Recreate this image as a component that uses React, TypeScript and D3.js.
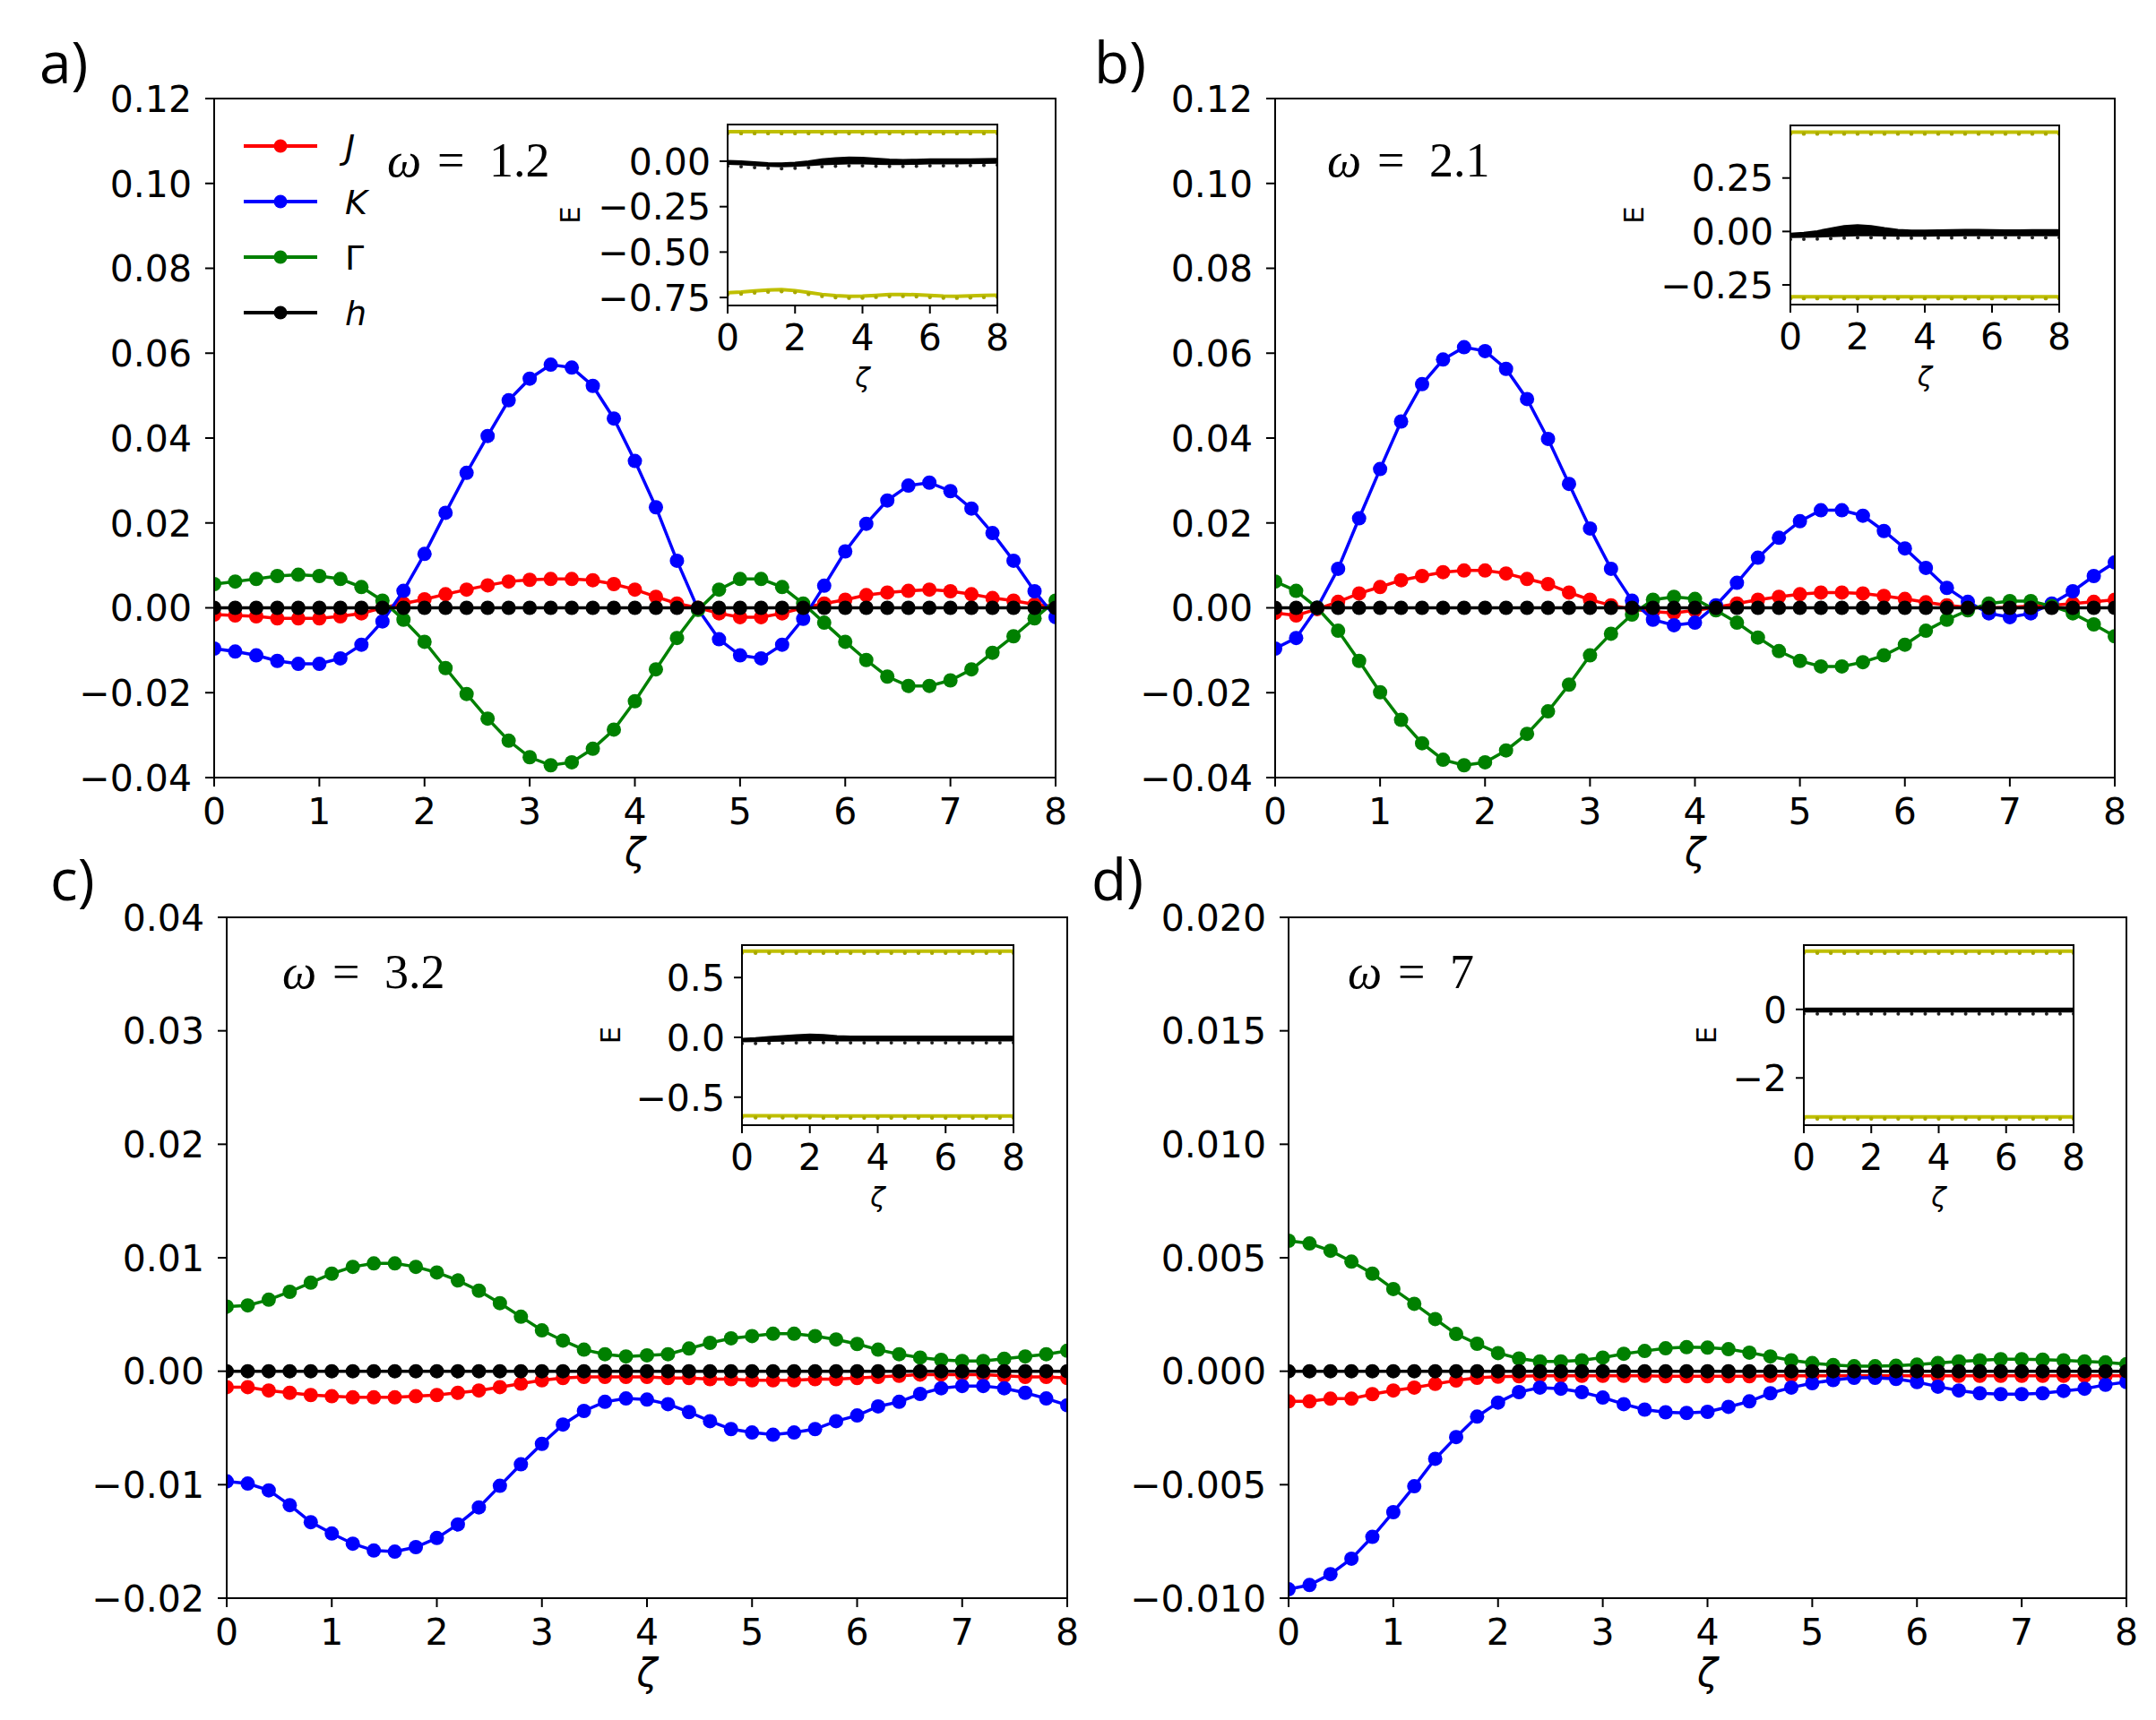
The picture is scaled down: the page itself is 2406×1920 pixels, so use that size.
import React from 'react'
import * as d3 from 'd3'

// sample positions (zeta)
const ZETA = [0, 0.2, 0.4, 0.6, 0.8, 1, 1.2, 1.4, 1.6, 1.8, 2, 2.2, 2.4, 2.6, 2.8, 3, 3.2, 3.4, 3.6, 3.8, 4, 4.2, 4.4, 4.6, 4.8, 5, 5.2, 5.4, 5.6, 5.8, 6, 6.2, 6.4, 6.6, 6.8, 7, 7.2, 7.4, 7.6, 7.8, 8]
const INSET_ZETA = [0, 0.4, 0.8, 1.2, 1.6, 2, 2.4, 2.8, 3.2, 3.6, 4, 4.4, 4.8, 5.2, 5.6, 6, 6.4, 6.8, 7.2, 7.6, 8]

const H_FIELD = [0, 0, 0, 0, 0, 0, 0, 0, 0, 0, 0, 0, 0, 0, 0, 0, 0, 0, 0, 0, 0, 0, 0, 0, 0, 0, 0, 0, 0, 0, 0, 0, 0, 0, 0, 0, 0, 0, 0, 0, 0]

// a) omega = 1.2
const A_J = [-0.0016, -0.0018, -0.002, -0.0025, -0.0025, -0.0025, -0.002, -0.0013, 0, 0.001, 0.002, 0.0032, 0.0043, 0.0053, 0.0062, 0.0066, 0.0068, 0.0068, 0.0065, 0.0056, 0.0043, 0.0026, 0.001, 0, -0.0013, -0.0022, -0.0022, -0.0013, 0, 0.001, 0.0019, 0.003, 0.0036, 0.004, 0.0043, 0.0039, 0.0032, 0.0023, 0.0017, 0.0008, 0.0003]
const A_K = [-0.0096, -0.0103, -0.0112, -0.0125, -0.0132, -0.0132, -0.0119, -0.0087, -0.0032, 0.004, 0.0127, 0.0224, 0.0318, 0.0405, 0.0489, 0.054, 0.0573, 0.0566, 0.0523, 0.0446, 0.0346, 0.0237, 0.0111, -0.0003, -0.0074, -0.0112, -0.0119, -0.0087, -0.0026, 0.0052, 0.0133, 0.0198, 0.0253, 0.0288, 0.0295, 0.0275, 0.0234, 0.0176, 0.0111, 0.0039, -0.0022]
const A_G = [0.0056, 0.0062, 0.0068, 0.0075, 0.0078, 0.0075, 0.0068, 0.0049, 0.0017, -0.0028, -0.008, -0.0142, -0.0203, -0.0261, -0.0313, -0.0352, -0.0371, -0.0364, -0.0332, -0.0287, -0.022, -0.0145, -0.0071, -0.0005, 0.0043, 0.0068, 0.0068, 0.0049, 0.001, -0.0035, -0.008, -0.0123, -0.0162, -0.0184, -0.0184, -0.0171, -0.0145, -0.0106, -0.0067, -0.0025, 0.0017]

// b) omega = 2.1
const B_J = [-0.0012, -0.0018, -0.0003, 0.0014, 0.0034, 0.0049, 0.0065, 0.0075, 0.0084, 0.0088, 0.0088, 0.0081, 0.0068, 0.0056, 0.0036, 0.0019, 0.0006, -0.0003, -0.0009, -0.0012, -0.0006, 0.0001, 0.001, 0.0019, 0.0026, 0.0032, 0.0036, 0.0036, 0.0034, 0.0028, 0.0021, 0.0013, 0.0006, 0.0001, 0, 0.0001, 0.0004, 0.0006, 0.001, 0.0014, 0.0019]
const B_K = [-0.0096, -0.0071, 0, 0.0092, 0.0211, 0.0327, 0.0439, 0.0527, 0.0585, 0.0614, 0.0605, 0.0563, 0.0492, 0.0398, 0.0292, 0.0187, 0.0092, 0.0017, -0.0028, -0.0041, -0.0035, 0.0006, 0.0059, 0.0118, 0.0165, 0.0204, 0.023, 0.023, 0.0217, 0.0181, 0.014, 0.0094, 0.0047, 0.0014, -0.0013, -0.0022, -0.0013, 0.001, 0.0039, 0.0075, 0.0107]
const B_G = [0.0062, 0.004, 0, -0.0054, -0.0125, -0.0199, -0.0264, -0.0319, -0.0358, -0.0371, -0.0364, -0.0336, -0.0297, -0.0244, -0.0181, -0.0112, -0.0061, -0.0016, 0.0019, 0.0026, 0.0021, -0.0006, -0.0035, -0.007, -0.0102, -0.0125, -0.0138, -0.0138, -0.0128, -0.0112, -0.0087, -0.0054, -0.0028, -0.0006, 0.001, 0.0016, 0.0016, 0.0004, -0.0013, -0.0039, -0.0067]

// c) omega = 3.2
const C_J = [-0.0014, -0.0014, -0.0017, -0.0019, -0.0021, -0.0022, -0.0023, -0.0023, -0.0023, -0.0022, -0.0021, -0.0019, -0.0017, -0.0014, -0.0011, -0.0008, -0.0006, -0.0005, -0.0005, -0.0005, -0.0005, -0.0006, -0.0006, -0.0007, -0.0007, -0.0008, -0.0008, -0.0008, -0.0007, -0.0007, -0.0006, -0.0005, -0.0004, -0.0003, -0.0003, -0.0003, -0.0003, -0.0004, -0.0005, -0.0005, -0.0006]
const C_K = [-0.0097, -0.0099, -0.0105, -0.0118, -0.0133, -0.0143, -0.0152, -0.0158, -0.0159, -0.0155, -0.0147, -0.0135, -0.012, -0.0101, -0.0082, -0.0064, -0.0047, -0.0035, -0.0027, -0.0024, -0.0025, -0.0029, -0.0036, -0.0044, -0.0051, -0.0054, -0.0056, -0.0054, -0.0051, -0.0044, -0.0039, -0.0031, -0.0027, -0.002, -0.0015, -0.0013, -0.0013, -0.0015, -0.0019, -0.0024, -0.003]
const C_G = [0.0057, 0.0058, 0.0063, 0.007, 0.0078, 0.0086, 0.0092, 0.0095, 0.0095, 0.0092, 0.0087, 0.008, 0.0071, 0.006, 0.0048, 0.0036, 0.0027, 0.0019, 0.0015, 0.0013, 0.0014, 0.0015, 0.002, 0.0025, 0.0029, 0.0031, 0.0033, 0.0033, 0.0031, 0.0028, 0.0024, 0.0019, 0.0015, 0.0012, 0.001, 0.0009, 0.0009, 0.0011, 0.0013, 0.0015, 0.0018]

// d) omega = 7
const D_J = [-0.00133, -0.00133, -0.00121, -0.00121, -0.00101, -0.00085, -0.00072, -0.00056, -0.00041, -0.00029, -0.00024, -0.00022, -0.0002, -0.0002, -0.0002, -0.0002, -0.0002, -0.0002, -0.00022, -0.00022, -0.00022, -0.00022, -0.00022, -0.0002, -0.0002, -0.0002, -0.0002, -0.0002, -0.0002, -0.0002, -0.0002, -0.0002, -0.0002, -0.0002, -0.0002, -0.0002, -0.0002, -0.0002, -0.0002, -0.0002, -0.0002]
const D_K = [-0.00961, -0.00942, -0.00894, -0.00826, -0.0073, -0.00621, -0.00507, -0.00386, -0.0029, -0.002, -0.00138, -0.00092, -0.00072, -0.00077, -0.00092, -0.00116, -0.00145, -0.00169, -0.00181, -0.00184, -0.00179, -0.00157, -0.00133, -0.00097, -0.00072, -0.00053, -0.00039, -0.00029, -0.00029, -0.00034, -0.00048, -0.00068, -0.00085, -0.00097, -0.00101, -0.00101, -0.00097, -0.00087, -0.00077, -0.0006, -0.00048]
const D_G = [0.00575, 0.00563, 0.00531, 0.00483, 0.0043, 0.00362, 0.00297, 0.0023, 0.00164, 0.00121, 0.0008, 0.00056, 0.00043, 0.00043, 0.00048, 0.0006, 0.00077, 0.00089, 0.00101, 0.00106, 0.00104, 0.00097, 0.00082, 0.00065, 0.00048, 0.00036, 0.00027, 0.00022, 0.00022, 0.00024, 0.00029, 0.00036, 0.00043, 0.00048, 0.00053, 0.00053, 0.00051, 0.00048, 0.00043, 0.00039, 0.00031]

// inset spectra E(zeta): two yellow edge bands and the black bundle near zero (upper / lower edge)
const A_E_TOP = [0.163, 0.163, 0.163, 0.163, 0.163, 0.163, 0.163, 0.163, 0.163, 0.163, 0.163, 0.163, 0.163, 0.163, 0.163, 0.163, 0.163, 0.163, 0.163, 0.163, 0.163]
const A_E_BOT = [-0.724, -0.72, -0.714, -0.709, -0.707, -0.712, -0.722, -0.733, -0.74, -0.743, -0.742, -0.738, -0.734, -0.733, -0.735, -0.739, -0.742, -0.743, -0.741, -0.739, -0.737]
const A_E_HI = [0, -0.003, -0.008, -0.012, -0.014, -0.01, -0.002, 0.008, 0.015, 0.018, 0.017, 0.012, 0.007, 0.005, 0.006, 0.008, 0.009, 0.009, 0.009, 0.01, 0.011]
const A_E_LO = [-0.012, -0.015, -0.02, -0.024, -0.026, -0.024, -0.02, -0.015, -0.012, -0.01, -0.01, -0.012, -0.014, -0.014, -0.012, -0.01, -0.01, -0.01, -0.009, -0.008, -0.006]

const B_E_TOP = [0.465, 0.465, 0.465, 0.465, 0.465, 0.465, 0.465, 0.465, 0.465, 0.465, 0.465, 0.465, 0.465, 0.465, 0.465, 0.465, 0.465, 0.465, 0.465, 0.465, 0.465]
const B_E_BOT = [-0.305, -0.305, -0.305, -0.305, -0.305, -0.305, -0.305, -0.305, -0.305, -0.305, -0.305, -0.305, -0.305, -0.305, -0.305, -0.305, -0.305, -0.305, -0.305, -0.305, -0.305]
const B_E_HI = [-0.012, -0.008, 0, 0.012, 0.024, 0.028, 0.024, 0.014, 0.006, 0.003, 0.003, 0.004, 0.005, 0.006, 0.006, 0.005, 0.004, 0.004, 0.005, 0.005, 0.005]
const B_E_LO = [-0.025, -0.024, -0.022, -0.02, -0.018, -0.016, -0.016, -0.017, -0.018, -0.018, -0.018, -0.017, -0.017, -0.016, -0.016, -0.016, -0.016, -0.016, -0.016, -0.016, -0.016]

const C_E_TOP = [0.72, 0.72, 0.72, 0.72, 0.72, 0.72, 0.72, 0.72, 0.72, 0.72, 0.72, 0.72, 0.72, 0.72, 0.72, 0.72, 0.72, 0.72, 0.72, 0.72, 0.72]
const C_E_BOT = [-0.656, -0.656, -0.655, -0.655, -0.655, -0.656, -0.657, -0.658, -0.658, -0.658, -0.657, -0.657, -0.657, -0.657, -0.657, -0.657, -0.657, -0.657, -0.657, -0.657, -0.657]
const C_E_HI = [-0.015, -0.01, 0, 0.008, 0.015, 0.02, 0.016, 0.008, 0.004, 0.003, 0.003, 0.003, 0.003, 0.003, 0.003, 0.003, 0.003, 0.003, 0.003, 0.003, 0.003]
const C_E_LO = [-0.03, -0.028, -0.026, -0.024, -0.022, -0.02, -0.02, -0.022, -0.022, -0.022, -0.022, -0.022, -0.022, -0.022, -0.022, -0.022, -0.022, -0.022, -0.022, -0.022, -0.022]

const D_E_TOP = [1.7, 1.7, 1.7, 1.7, 1.7, 1.7, 1.7, 1.7, 1.7, 1.7, 1.7, 1.7, 1.7, 1.7, 1.7, 1.7, 1.7, 1.7, 1.7, 1.7, 1.7]
const D_E_BOT = [-3.137, -3.137, -3.137, -3.137, -3.137, -3.137, -3.137, -3.137, -3.137, -3.137, -3.137, -3.137, -3.137, -3.137, -3.137, -3.137, -3.137, -3.137, -3.137, -3.137, -3.137]
const D_E_HI = [0.01, 0.01, 0.01, 0.01, 0.01, 0.01, 0.01, 0.01, 0.01, 0.01, 0.01, 0.01, 0.01, 0.01, 0.01, 0.01, 0.01, 0.01, 0.01, 0.01, 0.01]
const D_E_LO = [-0.05, -0.05, -0.05, -0.05, -0.05, -0.05, -0.05, -0.05, -0.05, -0.05, -0.05, -0.05, -0.05, -0.05, -0.05, -0.05, -0.05, -0.05, -0.05, -0.05, -0.05]

const AB_Y_TICKS = [-0.04, -0.02, 0, 0.02, 0.04, 0.06, 0.08, 0.1, 0.12]
const C_Y_TICKS = [-0.02, -0.01, 0, 0.01, 0.02, 0.03, 0.04]
const D_Y_TICKS = [-0.01, -0.005, 0, 0.005, 0.01, 0.015, 0.02]
const X_TICKS = [0, 1, 2, 3, 4, 5, 6, 7, 8]
const INSET_X_TICKS = [0, 2, 4, 6, 8]

const SERIES_NAMES = ['J', 'K', 'Γ', 'h']
const COLORS = { J: '#ff0000', K: '#0000ff', 'Γ': '#008000', h: '#000000' }
const YELLOW = '#bfbf00'

const TICK_FONT = 'DejaVu Sans, sans-serif'

const PANELS = [
  {
    id: 'a', tag: 'a)', omega: '1.2', legend: true,
    box: { x0: 239, x1: 1178, y0: 110, y1: 868 }, yDomain: [-0.04, 0.12], yTicks: AB_Y_TICKS, yFmt: '.2f',
    tagPos: [44, 93], omegaPos: [432, 197],
    data: { J: A_J, K: A_K, 'Γ': A_G, h: H_FIELD },
    inset: {
      box: { x0: 812, x1: 1113, y0: 139, y1: 341 }, yDomain: [-0.794, 0.202],
      yTicks: [-0.75, -0.5, -0.25, 0], yFmt: '.2f', eX: 636,
      top: A_E_TOP, bot: A_E_BOT, hi: A_E_HI, lo: A_E_LO,
    },
  },
  {
    id: 'b', tag: 'b)', omega: '2.1', legend: false,
    box: { x0: 1423, x1: 2360, y0: 110, y1: 868 }, yDomain: [-0.04, 0.12], yTicks: AB_Y_TICKS, yFmt: '.2f',
    tagPos: [1221, 93], omegaPos: [1481, 197],
    data: { J: B_J, K: B_K, 'Γ': B_G, h: H_FIELD },
    inset: {
      box: { x0: 1998, x1: 2298, y0: 140, y1: 340 }, yDomain: [-0.342, 0.496],
      yTicks: [-0.25, 0, 0.25], yFmt: '.2f', eX: 1823,
      top: B_E_TOP, bot: B_E_BOT, hi: B_E_HI, lo: B_E_LO,
    },
  },
  {
    id: 'c', tag: 'c)', omega: '3.2', legend: false,
    box: { x0: 253, x1: 1191, y0: 1024, y1: 1784 }, yDomain: [-0.02, 0.04], yTicks: C_Y_TICKS, yFmt: '.2f',
    tagPos: [56, 1005], omegaPos: [315, 1103],
    data: { J: C_J, K: C_K, 'Γ': C_G, h: H_FIELD },
    inset: {
      box: { x0: 828, x1: 1131, y0: 1055, y1: 1256 }, yDomain: [-0.734, 0.771],
      yTicks: [-0.5, 0, 0.5], yFmt: '.1f', eX: 681,
      top: C_E_TOP, bot: C_E_BOT, hi: C_E_HI, lo: C_E_LO,
    },
  },
  {
    id: 'd', tag: 'd)', omega: '7', legend: false,
    box: { x0: 1438, x1: 2373, y0: 1024, y1: 1784 }, yDomain: [-0.01, 0.02], yTicks: D_Y_TICKS, yFmt: '.3f',
    tagPos: [1218, 1005], omegaPos: [1504, 1103],
    data: { J: D_J, K: D_K, 'Γ': D_G, h: H_FIELD },
    inset: {
      box: { x0: 2013, x1: 2314, y0: 1055, y1: 1256 }, yDomain: [-3.378, 1.875],
      yTicks: [-2, 0], yFmt: 'd', eX: 1904,
      top: D_E_TOP, bot: D_E_BOT, hi: D_E_HI, lo: D_E_LO,
    },
  },
]

function Inset({ id, cfg }) {
  const { box } = cfg
  const x = d3.scaleLinear().domain([0, 8]).range([box.x0, box.x1])
  const y = d3.scaleLinear().domain(cfg.yDomain).range([box.y1, box.y0])
  const fmt = d3.format(cfg.yFmt)
  const line = (vals) => d3.line().x((_, i) => x(INSET_ZETA[i])).y((v) => y(v))(vals)
  const clipId = `inset-clip-${id}`
  const midY = (box.y0 + box.y1) / 2

  return (
    <g>
      <defs>
        <clipPath id={clipId}>
          <rect x={box.x0} y={box.y0} width={box.x1 - box.x0} height={box.y1 - box.y0} />
        </clipPath>
      </defs>
      <rect x={box.x0} y={box.y0} width={box.x1 - box.x0} height={box.y1 - box.y0} fill="#fff" />
      <g clipPath={`url(#${clipId})`}>
        {[cfg.top, cfg.bot].map((vals, k) => (
          <g key={k}>
            <path d={line(vals)} fill="none" stroke={YELLOW} strokeWidth={4} />
            {vals.map((v, i) => (
              <circle key={i} cx={x(INSET_ZETA[i])} cy={y(v) + 2} r={2.2} fill="#a8a800" />
            ))}
          </g>
        ))}
        <path d={line(cfg.hi)} fill="none" stroke="#000" strokeWidth={3} />
        <path d={line(cfg.lo)} fill="none" stroke="#000" strokeWidth={3} />
        <path
          d={d3.area().x((_, i) => x(INSET_ZETA[i])).y0((_, i) => y(cfg.lo[i])).y1((v) => y(v))(cfg.hi)}
          fill="#000"
        />
        {cfg.lo.map((v, i) => (
          <circle key={i} cx={x(INSET_ZETA[i])} cy={y(v) + 3} r={2} fill="#222" />
        ))}
      </g>
      <rect x={box.x0} y={box.y0} width={box.x1 - box.x0} height={box.y1 - box.y0} fill="none" stroke="#000" strokeWidth={2} />
      {cfg.yTicks.map((t) => (
        <g key={t}>
          <line x1={box.x0 - 9} x2={box.x0} y1={y(t)} y2={y(t)} stroke="#000" strokeWidth={2} />
          <text x={box.x0 - 19} y={y(t)} dy="0.36em" textAnchor="end" fontSize={41} fontFamily={TICK_FONT}>{fmt(t)}</text>
        </g>
      ))}
      {INSET_X_TICKS.map((t) => (
        <g key={t}>
          <line x1={x(t)} x2={x(t)} y1={box.y1} y2={box.y1 + 9} stroke="#000" strokeWidth={2} />
          <text x={x(t)} y={box.y1 + 50} textAnchor="middle" fontSize={41} fontFamily={TICK_FONT}>{t}</text>
        </g>
      ))}
      <text x={(box.x0 + box.x1) / 2} y={box.y1 + 91} textAnchor="middle" fontSize={30} fontStyle="italic" fontFamily={TICK_FONT}>ζ</text>
      <text
        transform={`translate(${cfg.eX},${midY}) rotate(-90)`}
        textAnchor="middle"
        dy="0.36em"
        fontSize={31}
        fontFamily={TICK_FONT}
      >E</text>
    </g>
  )
}

function Panel({ p }) {
  const { box } = p
  const x = d3.scaleLinear().domain([0, 8]).range([box.x0, box.x1])
  const y = d3.scaleLinear().domain(p.yDomain).range([box.y1, box.y0])
  const fmt = d3.format(p.yFmt)
  const line = d3.line().x((_, i) => x(ZETA[i])).y((v) => y(v))
  const clipId = `clip-${p.id}`

  return (
    <g>
      <defs>
        <clipPath id={clipId}>
          <rect x={box.x0} y={box.y0} width={box.x1 - box.x0} height={box.y1 - box.y0} />
        </clipPath>
      </defs>
      <g clipPath={`url(#${clipId})`}>
        {SERIES_NAMES.map((name) => (
          <g key={name}>
            <path d={line(p.data[name])} fill="none" stroke={COLORS[name]} strokeWidth={3.5} />
            {p.data[name].map((v, i) => (
              <circle key={i} cx={x(ZETA[i])} cy={y(v)} r={8} fill={COLORS[name]} />
            ))}
          </g>
        ))}
      </g>
      <rect x={box.x0} y={box.y0} width={box.x1 - box.x0} height={box.y1 - box.y0} fill="none" stroke="#000" strokeWidth={2} />
      {p.yTicks.map((t) => (
        <g key={t}>
          <line x1={box.x0 - 10} x2={box.x0} y1={y(t)} y2={y(t)} stroke="#000" strokeWidth={2} />
          <text x={box.x0 - 25} y={y(t)} dy="0.36em" textAnchor="end" fontSize={41} fontFamily={TICK_FONT}>{fmt(t)}</text>
        </g>
      ))}
      {X_TICKS.map((t) => (
        <g key={t}>
          <line x1={x(t)} x2={x(t)} y1={box.y1} y2={box.y1 + 10} stroke="#000" strokeWidth={2} />
          <text x={x(t)} y={box.y1 + 52} textAnchor="middle" fontSize={41} fontFamily={TICK_FONT}>{t}</text>
        </g>
      ))}
      <text x={(box.x0 + box.x1) / 2} y={box.y1 + 98} textAnchor="middle" fontSize={42} fontStyle="italic" fontFamily={TICK_FONT}>ζ</text>

      <text x={p.tagPos[0]} y={p.tagPos[1]} fontSize={64} fontFamily="Open Sans, sans-serif">{p.tag}</text>

      <text y={p.omegaPos[1]} fontSize={54} fontFamily="Liberation Serif, serif">
        <tspan x={p.omegaPos[0]} fontStyle="italic">ω</tspan>
        <tspan x={p.omegaPos[0] + 56}>=</tspan>
        <tspan x={p.omegaPos[0] + 114}>{p.omega}</tspan>
      </text>

      {p.legend && SERIES_NAMES.map((name, i) => {
        const ly = 163 + i * 62
        return (
          <g key={name}>
            <line x1={272} x2={354} y1={ly} y2={ly} stroke={COLORS[name]} strokeWidth={4} />
            <circle cx={313} cy={ly} r={7.5} fill={COLORS[name]} />
            <text x={385} y={ly} dy="0.36em" fontSize={38} fontFamily={TICK_FONT} fontStyle={name === 'Γ' ? 'normal' : 'italic'}>{name}</text>
          </g>
        )
      })}

      <Inset id={p.id} cfg={p.inset} />
    </g>
  )
}

export default function App() {
  return (
    <svg
      width={2406}
      height={1920}
      viewBox="0 0 2406 1920"
      style={{ position: 'absolute', left: 0, top: 0, background: '#fff' }}
    >
      <rect width={2406} height={1920} fill="#fff" />
      {PANELS.map((p) => <Panel key={p.id} p={p} />)}
    </svg>
  )
}
